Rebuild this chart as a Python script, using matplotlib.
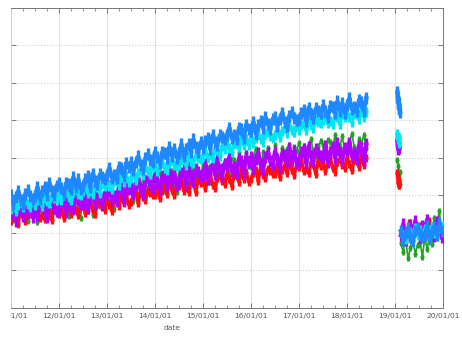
import numpy as np
import matplotlib
matplotlib.use("Agg")
import matplotlib.pyplot as plt
import matplotlib.dates as mdates
from matplotlib.transforms import Bbox, TransformedBbox
from datetime import datetime

# ---- data (values in hundredths) ----
# main segment: 2011.00 -> 2018.40, one value every 0.05 year
blue_main = [299, 276, 296, 311, 287, 276, 304, 313, 297, 290,
             298, 321, 289, 310, 322, 301, 333, 312, 300, 325,
             333, 319, 302, 332, 329, 315, 347, 322, 342, 317,
             325, 342, 350, 321, 357, 338, 330, 355, 349, 342,
             354, 373, 346, 354, 345, 376, 373, 350, 386, 375,
             388, 366, 387, 403, 380, 370, 398, 409, 393, 388,
             416, 402, 385, 415, 412, 398, 429, 405, 424, 400,
             411, 435, 403, 424, 436, 416, 448, 428, 415, 441,
             425, 443, 451, 424, 460, 442, 434, 460, 455, 449,
             461, 479, 451, 459, 449, 480, 476, 452, 488, 476,
             472, 496, 464, 486, 498, 478, 509, 489, 477, 503,
             507, 485, 504, 520, 495, 485, 512, 522, 505, 499,
             502, 519, 527, 498, 533, 515, 506, 531, 524, 518,
             539, 524, 507, 537, 534, 519, 550, 525, 545, 520,
             541, 558, 529, 536, 525, 554, 549, 524, 559]
cyan_main = [263, 280, 258, 274, 282, 268, 290, 275, 267, 286,
             274, 286, 293, 272, 299, 285, 279, 298, 293, 290,
             303, 286, 301, 311, 295, 288, 308, 315, 303, 299,
             312, 325, 305, 311, 303, 326, 322, 306, 331, 323,
             334, 325, 315, 338, 337, 328, 353, 336, 352, 335,
             345, 363, 341, 359, 368, 354, 377, 363, 357, 376,
             380, 364, 378, 389, 372, 366, 386, 393, 381, 377,
             380, 393, 399, 379, 405, 392, 386, 405, 400, 397,
             405, 418, 400, 406, 399, 423, 420, 404, 430, 423,
             435, 425, 415, 438, 437, 427, 451, 434, 450, 433,
             455, 439, 453, 464, 448, 442, 462, 469, 458, 453,
             459, 477, 454, 471, 480, 466, 488, 474, 467, 485,
             474, 487, 493, 473, 499, 486, 480, 499, 494, 491,
             499, 511, 491, 497, 489, 511, 507, 490, 516, 507,
             518, 507, 496, 517, 515, 504, 526, 508, 522]
purple_main = [273, 253, 232, 267, 263, 244, 282, 251, 274, 242,
               277, 246, 270, 288, 257, 242, 277, 288, 266, 257,
               260, 282, 290, 254, 298, 274, 262, 294, 286, 276,
               277, 306, 265, 292, 305, 278, 317, 290, 275, 306,
               302, 324, 288, 298, 285, 323, 318, 287, 332, 316,
               332, 302, 327, 346, 316, 302, 337, 349, 328, 320,
               355, 335, 314, 351, 347, 328, 366, 335, 360, 328,
               336, 358, 366, 330, 374, 350, 338, 370, 362, 352,
               353, 382, 342, 368, 382, 355, 394, 368, 352, 384,
               380, 401, 365, 374, 360, 397, 391, 359, 403, 387,
               402, 371, 395, 413, 382, 367, 402, 413, 391, 382,
               416, 396, 375, 410, 406, 387, 425, 394, 417, 385,
               393, 415, 422, 385, 428, 404, 391, 423, 413, 403,
               403, 431, 390, 415, 428, 400, 438, 411, 394, 425,
               420, 440, 403, 411, 396, 432, 425, 393, 436]
green_main = [267, 233, 257, 220, 263, 277, 244, 231, 258, 271,
              262, 229, 276, 271, 250, 291, 241, 258, 287, 250,
              247, 276, 295, 262, 244, 284, 273, 294, 261, 239,
              301, 270, 257, 294, 248, 289, 300, 271, 295, 284,
              307, 274, 300, 264, 308, 324, 293, 281, 309, 324,
              316, 284, 332, 328, 308, 350, 302, 320, 350, 314,
              312, 342, 361, 329, 311, 352, 341, 363, 330, 309,
              371, 341, 328, 365, 319, 361, 372, 344, 367, 357,
              380, 347, 371, 335, 379, 394, 362, 350, 378, 391,
              383, 351, 398, 394, 373, 415, 366, 384, 413, 377,
              374, 404, 423, 391, 373, 414, 403, 425, 392, 371,
              433, 402, 390, 426, 380, 422, 433, 404, 427, 417,
              440, 406, 430, 392, 435, 449, 417, 404, 430, 443,
              434, 401, 447, 442, 420, 461, 412, 428, 457, 419,
              416, 444, 463, 429, 410, 450, 438, 459, 425]
red_main = [231, 248, 254, 225, 260, 241, 231, 256, 249, 241,
            252, 269, 239, 246, 235, 264, 258, 233, 268, 254,
            249, 272, 239, 260, 271, 250, 280, 259, 246, 271,
            274, 251, 270, 285, 260, 249, 275, 284, 267, 260,
            287, 273, 257, 287, 285, 271, 302, 278, 298, 274,
            282, 299, 307, 278, 314, 295, 286, 312, 305, 299,
            300, 323, 291, 312, 323, 303, 334, 313, 300, 326,
            323, 340, 312, 319, 308, 338, 333, 308, 343, 331,
            342, 319, 338, 353, 328, 318, 345, 354, 337, 330,
            357, 342, 325, 354, 351, 336, 367, 342, 361, 336,
            343, 360, 367, 338, 373, 354, 345, 370, 363, 356,
            357, 380, 347, 368, 379, 358, 388, 367, 354, 379,
            376, 393, 363, 370, 358, 387, 382, 356, 391, 377,
            388, 365, 383, 398, 373, 362, 388, 397, 380, 372,
            399, 383, 366, 394, 390, 375, 405, 380, 398]

# short cluster early 2019 (one value every 0.01 year from 2019.05)
blue_mid = [575, 548, 560, 530, 542, 521]
cyan_mid = [462, 448, 455, 440, 452]
purple_mid = [445, 430, 422, 438, 426]
green_mid = [393, 378, 352, 338, 325, 362, 330]
red_mid = [358, 345, 331, 340, 327]

# last segment 2019.12 -> 2020 (one value every 0.05 year)
blue_last = [203, 180, 198, 213, 188, 177, 203, 212, 195, 188,
             194, 217, 184, 205, 215, 194, 225, 204]
cyan_last = [205, 194, 182, 203, 201, 190, 212, 194, 208, 190,
             210, 193, 207, 217, 199, 192, 212, 218]
purple_last = [193, 222, 180, 206, 219, 192, 230, 203, 187, 218,
               213, 234, 197, 206, 191, 227, 220, 187]
green_last = [172, 148, 185, 131, 160, 190, 142, 168, 176, 135,
              185, 155, 198, 170, 240, 215, 258, 205]
red_last_t = [2019.30, 2019.50, 2019.70, 2019.85]
red_last = [225, 218, 230, 222]

colors = {"red": "#ff1010", "green": "#22a322", "purple": "#b000ff",
          "cyan": "#00e5ee", "blue": "#1e88ff"}
bar_len = {"red": 6.0, "green": 4.5, "purple": 8.0, "cyan": 7.0, "blue": 8.0}
cloud_lw = {"red": 2.5, "green": 1.2, "purple": 3.0, "cyan": 2.8, "blue": 3.0}
bar_w = {"red": 2.4, "green": 2.0, "purple": 2.4, "cyan": 2.4, "blue": 2.4}


def ynum(years):
    base = mdates.date2num(datetime(2011, 1, 1))
    return base + (np.asarray(years, dtype=float) - 2011.0) * 365.25


def t_main(n):
    return 2011.0 + 0.05 * np.arange(n)


def t_mid(n):
    return 2019.05 + 0.01 * np.arange(n)


def t_last(n):
    return 2019.12 + 0.05 * np.arange(n)


series = [
    ("green", green_main, green_mid, green_last, None),
    ("red", red_main, red_mid, red_last, red_last_t),
    ("purple", purple_main, purple_mid, purple_last, None),
    ("cyan", cyan_main, cyan_mid, cyan_last, None),
    ("blue", blue_main, blue_mid, blue_last, None),
]

fig = plt.figure(figsize=(4.62, 3.38), dpi=100)
ax = fig.add_axes([11 / 462, (338 - 307.5) / 338, 432 / 462, 300 / 338])

for name, vm, vmid, vl, tl in series:
    c = colors[name]
    segs = [(ynum(t_main(len(vm))), np.asarray(vm) / 100.0),
            (ynum(t_mid(len(vmid))), np.asarray(vmid) / 100.0),
            (ynum(tl if tl is not None else t_last(len(vl))),
             np.asarray(vl) / 100.0)]
    for k, (x, y) in enumerate(segs):
        if not (name == "red" and k == 2):
            # dense core of the point cloud
            ax.plot(x, y, ls="-", lw=cloud_lw[name], color=c, zorder=3,
                    solid_joinstyle="round")
        ax.plot(x, y, ls="none", marker="|", ms=bar_len[name],
                mew=bar_w[name], color=c, zorder=3)
        ax.plot(x, y, ls="none", marker="o", ms=3.0, mew=0, color=c,
                zorder=3)

ax.set_xlim(mdates.date2num(datetime(2011, 1, 1)),
            mdates.date2num(datetime(2020, 1, 1)))
ax.set_ylim(0, 8)

ax.xaxis.set_major_locator(mdates.YearLocator())
ax.xaxis.set_minor_locator(mdates.MonthLocator(bymonth=[4, 7, 10]))
ax.xaxis.set_major_formatter(mdates.DateFormatter("%y/%m/%d"))
ax.set_yticks(np.arange(0, 9, 1))

ax.tick_params(which="both", direction="in", top=True, right=True,
               left=True, bottom=True, labelleft=False, colors="#666666",
               labelcolor="#555555", labelsize=5.4, pad=4)
ax.tick_params(which="major", length=3.5, width=0.6)
ax.tick_params(which="minor", length=2, width=0.5)

ax.xaxis.grid(True, color="#e2e2e2", ls="-", lw=0.7)
ax.yaxis.grid(True, color="#cfcfcf", ls=":", lw=0.8)
ax.set_axisbelow(True)

for s in ax.spines.values():
    s.set_color("#777777")
    s.set_linewidth(0.7)
ax.spines["left"].set_color("#cccccc")

ax.set_xlabel("date", fontsize=5.4, color="#555555")
ax.xaxis.set_label_coords((172 - 11) / 432, -0.06)

# the reference image is cropped just left of the axes
fig.canvas.draw()
clip = TransformedBbox(Bbox([[10 / 462, 0], [1, 1]]), fig.transFigure)
for lbl in ax.get_xticklabels():
    lbl.set_clip_box(clip)
    lbl.set_clip_on(True)

fig.savefig("out.png", dpi=100)
